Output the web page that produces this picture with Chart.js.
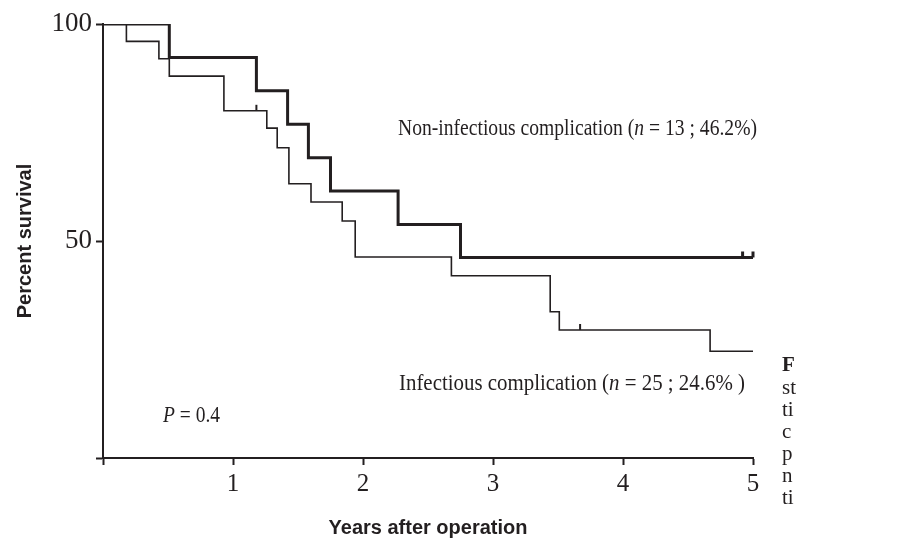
<!DOCTYPE html>
<html>
<head>
<meta charset="utf-8">
<script src="https://cdn.jsdelivr.net/npm/chart.js@4"></script>
<style>
  html, body { margin: 0; padding: 0; background: #fff; }
  #wrap { width: 904px; height: 542px; }
</style>
</head>
<body>
<div id="wrap"><canvas id="kmChart" width="904" height="542"></canvas></div>
<script>
// Kaplan-Meier estimates (years, percent survival)
const nonInfTimes = [0, 0.51, 1.18, 1.42, 1.58, 1.75, 2.27, 2.75, 5.0];
const nonInfSurv  = [100, 92.3, 84.6, 76.9, 69.2, 61.5, 53.8, 46.2, 46.2];
const nonInfCensor = [4.92, 5.0];

const infTimes = [0, 0.18, 0.43, 0.51, 0.93, 1.26, 1.34, 1.43, 1.60, 1.84, 1.94, 2.68, 3.44, 3.51, 4.67, 5.0];
const infSurv  = [100, 96, 92, 88, 80, 76, 71.5, 63.2, 59, 54.6, 46.3, 42, 33.7, 29.5, 24.6, 24.6];
const infCensor = [1.18, 3.67];

const xTicks = [0, 1, 2, 3, 4, 5];
const yTicks = [0, 50, 100];

const INK = "#231f20";
const SERIF = "'Liberation Serif', 'DejaVu Serif', serif";
const SANS = "'Liberation Sans', Arial, sans-serif";

function toPoints(times, surv) {
  return times.map((t, i) => ({ x: t, y: surv[i] }));
}

// survival value of a step curve at time t
function survAt(times, surv, t) {
  let v = surv[0];
  for (let i = 0; i < times.length; i++) {
    if (times[i] <= t) v = surv[i];
  }
  return v;
}

// draws text pieces one after another (some italic), squeezed to a given width
function richText(ctx, x, y, parts, size, width) {
  const fontOf = p => (p.style || "") + " " + size + "px " + SERIF;
  let total = 0;
  parts.forEach(p => { ctx.font = fontOf(p); total += ctx.measureText(p.text).width; });
  const k = width ? width / total : 1;
  ctx.save();
  ctx.translate(x, y);
  ctx.scale(k, 1);
  let cx = 0;
  parts.forEach(p => {
    ctx.font = fontOf(p);
    ctx.fillText(p.text, cx, 0);
    cx += ctx.measureText(p.text).width;
  });
  ctx.restore();
}

const censorMarks = {
  id: "censorMarks",
  afterDatasetsDraw(chart) {
    const { ctx, scales: { x, y } } = chart;
    const groups = [
      { c: nonInfCensor, t: nonInfTimes, s: nonInfSurv, w: 3 },
      { c: infCensor, t: infTimes, s: infSurv, w: 2 }
    ];
    ctx.save();
    ctx.strokeStyle = INK;
    groups.forEach(g => {
      ctx.lineWidth = g.w;
      g.c.forEach(t => {
        const px = x.getPixelForValue(t);
        const py = y.getPixelForValue(survAt(g.t, g.s, t));
        ctx.beginPath();
        ctx.moveTo(px, py);
        ctx.lineTo(px, py - 6);
        ctx.stroke();
      });
    });
    ctx.restore();
  }
};

const labels = {
  id: "labels",
  afterDraw(chart) {
    const { ctx } = chart;
    ctx.save();
    ctx.fillStyle = INK;
    ctx.textBaseline = "middle";
    richText(ctx, 398, 129, [
      { text: "Non-infectious complication (" },
      { text: "n", style: "italic" },
      { text: " = 13 ; 46.2%)" }
    ], 23, 359);
    richText(ctx, 399, 384, [
      { text: "Infectious complication (" },
      { text: "n", style: "italic" },
      { text: " = 25 ; 24.6% )" }
    ], 23, 346);
    richText(ctx, 163, 416, [
      { text: "P", style: "italic" },
      { text: " = 0.4" }
    ], 24, 57);
    // cut-off figure caption at the right edge
    const cap = ["st", "ti", "c", "p", "n", "ti"];
    richText(ctx, 782, 366, [{ text: "F", style: "bold" }], 21);
    cap.forEach((s, i) => richText(ctx, 782, 388 + i * 22, [{ text: s }], 21));
    ctx.restore();
  }
};

const ctx = document.getElementById("kmChart").getContext("2d");
new Chart(ctx, {
  type: "line",
  data: {
    datasets: [
      {
        label: "Non-infectious complication",
        data: toPoints(nonInfTimes, nonInfSurv),
        stepped: true,
        borderColor: INK,
        borderWidth: 3,
        pointRadius: 0,
        fill: false
      },
      {
        label: "Infectious complication",
        data: toPoints(infTimes, infSurv),
        stepped: true,
        borderColor: INK,
        borderWidth: 1.6,
        pointRadius: 0,
        fill: false
      }
    ]
  },
  options: {
    responsive: false,
    animation: false,
    devicePixelRatio: 1,
    layout: { padding: { top: 24, right: 151, bottom: 0, left: 0 } },
    plugins: {
      legend: { display: false },
      tooltip: { enabled: false }
    },
    scales: {
      x: {
        type: "linear",
        min: 0,
        max: 5,
        afterBuildTicks: s => { s.ticks = xTicks.map(v => ({ value: v })); },
        afterFit: s => { s.height = 84; },
        ticks: {
          callback: v => (v === 0 ? "" : v),
          font: { family: SERIF, size: 25 },
          color: INK,
          padding: 4,
          maxRotation: 0
        },
        grid: { drawOnChartArea: false, drawTicks: true, tickLength: 7, tickWidth: 2, tickColor: INK },
        border: { display: true, color: INK, width: 2 },
        title: {
          display: true,
          text: "Years after operation",
          font: { family: SANS, size: 20, weight: "bold" },
          color: INK,
          padding: { top: 0, bottom: 2 }
        }
      },
      y: {
        min: 0,
        max: 100,
        afterBuildTicks: s => { s.ticks = yTicks.map(v => ({ value: v })); },
        afterFit: s => { s.width = 103; },
        ticks: {
          callback: v => (v === 0 ? "" : v),
          font: { family: SERIF, size: 27 },
          color: INK,
          padding: 4
        },
        grid: { drawOnChartArea: false, drawTicks: true, tickLength: 7, tickWidth: 2, tickColor: INK },
        border: { display: true, color: INK, width: 2 },
        title: {
          display: true,
          text: "Percent survival",
          font: { family: SANS, size: 20, weight: "bold" },
          color: INK,
          padding: { top: 13, bottom: 0 }
        }
      }
    }
  },
  plugins: [censorMarks, labels]
});
</script>
</body>
</html>
